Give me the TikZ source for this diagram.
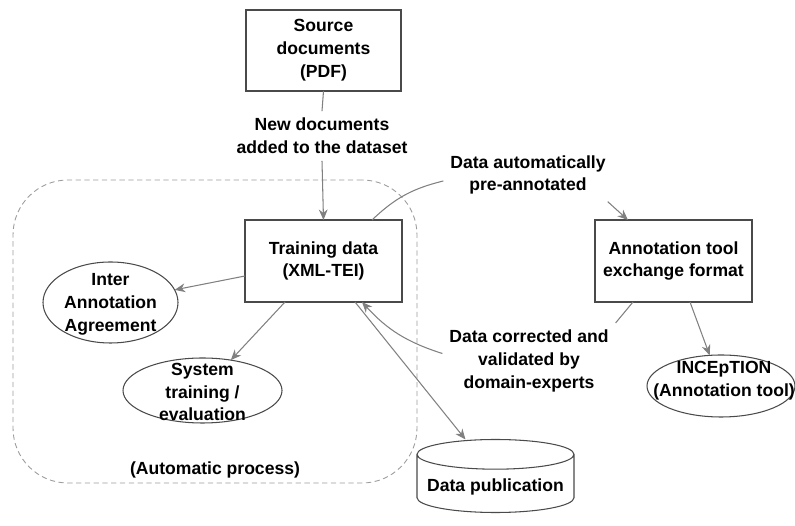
\documentclass[tikz,border=0pt]{standalone}
\usepackage{fontspec}
\setmainfont{Liberation Sans}
\usepackage{xcolor}
\usepackage{tikz}
\usetikzlibrary{shapes,arrows,positioning,calc,arrows.meta}

\definecolor{boxgray}{HTML}{4A4A4A}
\definecolor{edgegray}{HTML}{808080}
\definecolor{dashgray}{HTML}{9C9C9C}

\begin{document}
\begin{tikzpicture}[node distance=0cm, outer sep=0pt,
        font=\fontsize{10}{13}\selectfont\bfseries,
        box/.style={draw=boxgray, line width=0.6pt, rectangle, align=center},
        bubble/.style={draw=boxgray, line width=0.6pt, ellipse, inner sep=0pt},
        lbl/.style={align=center, inner sep=4pt},
        conn/.style={draw=edgegray, line width=0.6pt},
        tip/.style={-{Stealth[length=6pt, width=5pt]}}]
        \useasboundingbox (0,0) rectangle (15.9,-10.52);

        % Automatic process
        \node [draw=dashgray, dash pattern=on 3pt off 2pt, line width=0.5pt, rectangle, rounded corners=1.1cm, minimum width=8.08cm, minimum height=6.06cm] (autobox) at (4.3,-6.63) {};
        \node [lbl] (autolbl) at (4.3,-9.4) {(Automatic process)};

        % Boxes
        \node [box, minimum width=3.14cm, minimum height=1.64cm] (train) at (6.47,-5.22) {Training data\\(XML-TEI)};
        \node [box, minimum width=3.1cm, minimum height=1.62cm, above=2.58cm of train] (source) {Source\\documents\\(PDF)};
        \node [box, minimum width=3.14cm, minimum height=1.64cm, right=3.86cm of train] (anno) {Annotation tool\\exchange format};
        \node [draw=boxgray, line width=0.6pt, cylinder, shape border rotate=90, aspect=0.2, minimum width=3.14cm, minimum height=1.46cm] (pub) at (9.91,-9.73) {Data publication};

        % Ellipses
        \node [bubble, minimum width=2.7cm, minimum height=1.62cm] (inter) at (2.21,-6.05) {};
        \node [align=center] at (2.21,-6.09) {Inter\\Annotation\\Agreement};
        \node [bubble, minimum width=3.18cm, minimum height=1.3cm] (system) at (4.05,-7.81) {};
        \node [align=center] at (4.05,-7.84) {System\\training /\\evaluation};
        \node [bubble, minimum width=2.96cm, minimum height=1.24cm] (incep) at (14.42,-7.72) {};
        \node [align=center] at (14.48,-7.62) {INCEpTION\\(Annotation tool)};

        % Edge labels
        \node [lbl] (newlbl) at (6.44,-2.72) {New documents\\added to the dataset};
        \node [lbl] (prelbl) at (10.56,-3.5) {Data automatically\\pre-annotated};
        \node [lbl] (fixlbl) at (10.58,-7.22) {Data corrected and\\validated by\\domain-experts};

        % Arrows
        \draw [conn] (source.south) -- (newlbl.north);
        \draw [conn, tip] (newlbl.south) -- (train.north);
        \draw [conn] ([xshift=-0.6cm]train.north east) to[bend left=15] ([yshift=-0.12cm]prelbl.west);
        \draw [conn, tip] ([xshift=-0.1cm]prelbl.south east) -- ([xshift=0.66cm]anno.north west);
        \draw [conn] ([xshift=0.76cm]anno.south west) -- (fixlbl.north east);
        \draw [conn, tip] ([yshift=0.15cm]fixlbl.west) to[bend left=15] ([xshift=-0.8cm]train.south east);
        \draw [conn, tip] ([yshift=-0.3cm]train.west) -- (inter);
        \draw [conn, tip] ([xshift=0.8cm]train.south west) -- (system);
        \draw [conn, tip] ([xshift=-0.94cm]train.south east) -- ([xshift=-0.6cm]pub.north);
        \draw [conn, tip] ([xshift=1.9cm]anno.south west) -- (incep);
\end{tikzpicture}
\end{document}
